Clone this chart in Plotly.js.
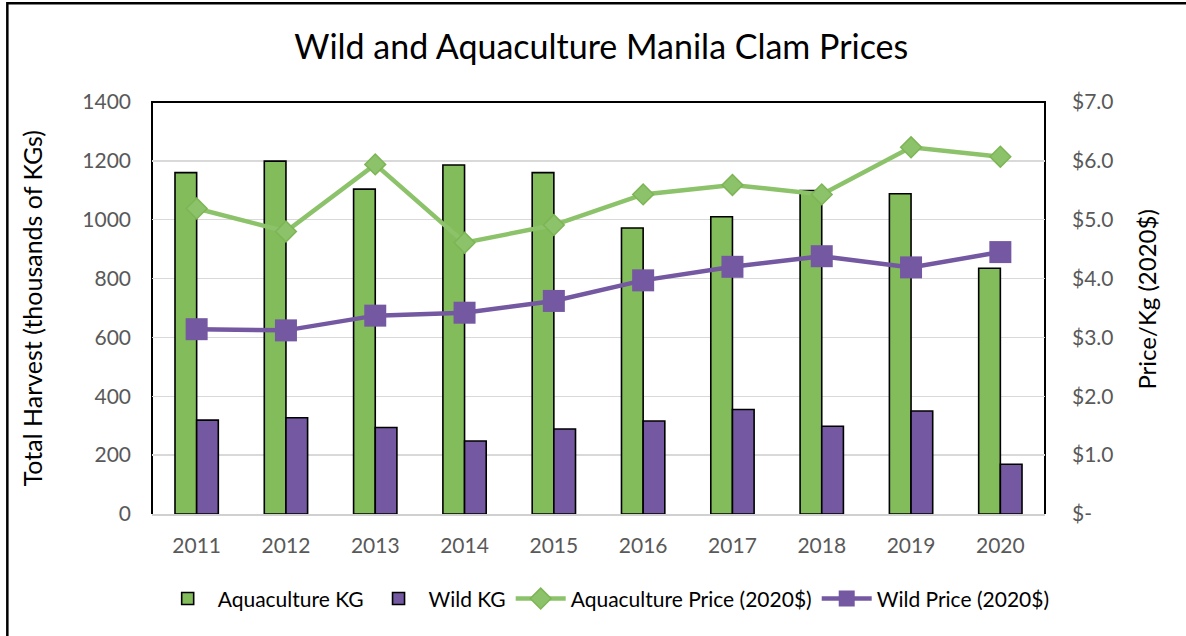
<!DOCTYPE html>
<html>
<head>
<meta charset="utf-8">
<script src="https://cdn.plot.ly/plotly-3.0.1.min.js"></script>
<style>
  html, body { margin: 0; padding: 0; background: #ffffff; }
  #chart { width: 1186px; height: 636px; }
</style>
</head>
<body>
<div id="chart"></div>
<script>
// ---- data ----
const years = ['2011', '2012', '2013', '2014', '2015', '2016', '2017', '2018', '2019', '2020'];
const aquacultureKG = [1160, 1199, 1104, 1186, 1160, 972, 1010, 1099, 1088, 835];
const wildKG = [319, 327, 294, 248, 289, 316, 355, 298, 350, 169];
const aquaculturePrice = [5.19, 4.80, 5.94, 4.61, 4.91, 5.43, 5.59, 5.43, 6.23, 6.07];
const wildPrice = [3.14, 3.12, 3.37, 3.42, 3.62, 3.97, 4.20, 4.38, 4.19, 4.45];
const harvestTicks = [0, 200, 400, 600, 800, 1000, 1200, 1400];
const priceTicks = [0, 1, 2, 3, 4, 5, 6, 7];
const priceTickLabels = ['$-', '$1.0', '$2.0', '$3.0', '$4.0', '$5.0', '$6.0', '$7.0'];

// ---- style ----
const FONT = 'Lato, "Open Sans", sans-serif';
const GREEN_BAR = '#83bc5a';
const PURPLE = '#7458a2';
const GREEN_LINE = '#8cc26a';

const traces = [
  {
    type: 'bar', name: 'Aquaculture KG', x: years, y: aquacultureKG,
    marker: { color: GREEN_BAR, line: { color: '#000000', width: 1.6 } },
    hoverinfo: 'skip'
  },
  {
    type: 'bar', name: 'Wild KG', x: years, y: wildKG,
    marker: { color: PURPLE, line: { color: '#000000', width: 1.6 } },
    hoverinfo: 'skip'
  },
  {
    type: 'scatter', mode: 'lines+markers', name: 'Aquaculture Price (2020$)',
    x: years, y: aquaculturePrice, yaxis: 'y2',
    line: { color: GREEN_LINE, width: 4.5 },
    marker: { symbol: 'diamond', size: 16, color: GREEN_LINE, line: { color: '#7db555', width: 1.5 } },
    hoverinfo: 'skip'
  },
  {
    type: 'scatter', mode: 'lines+markers', name: 'Wild Price (2020$)',
    x: years, y: wildPrice, yaxis: 'y2',
    line: { color: PURPLE, width: 4.5 },
    marker: { symbol: 'square', size: 22, color: PURPLE },
    hoverinfo: 'skip'
  }
];

const layout = {
  width: 1186, height: 636,
  paper_bgcolor: '#ffffff', plot_bgcolor: '#ffffff',
  margin: { l: 152, r: 141, t: 102, b: 122, pad: 0 },
  font: { family: FONT, color: '#595959', size: 21 },
  showlegend: true,
  barmode: 'group', bargap: 0.515, bargroupgap: 0,
  title: {
    text: 'Wild and Aquaculture Manila Clam Prices',
    font: { family: FONT, size: 34, color: '#000000' },
    x: 0.507, xanchor: 'center', y: 0.926, yanchor: 'middle'
  },
  xaxis: {
    type: 'category', range: [-0.5, 9.5], autorange: false,
    showgrid: false, zeroline: false,
    showline: true, linecolor: '#d0d0d0', linewidth: 1.5,
    ticks: '', ticklabelstandoff: 12,
    tickfont: { family: FONT, size: 21, color: '#595959' },
    fixedrange: true
  },
  yaxis: {
    range: [0, 1400], tickvals: harvestTicks,
    showgrid: true, gridcolor: '#d9d9d9', gridwidth: 1.5,
    zeroline: false, showline: false, ticks: '', ticklabelstandoff: 20,
    tickfont: { family: FONT, size: 21, color: '#595959' },
    fixedrange: true
  },
  yaxis2: {
    overlaying: 'y', side: 'right', range: [0, 7],
    tickvals: priceTicks, ticktext: priceTickLabels,
    showgrid: false, zeroline: false, showline: false, ticks: '',
    ticklabelstandoff: 26,
    tickfont: { family: FONT, size: 21, color: '#595959' },
    fixedrange: true
  },
  legend: {
    orientation: 'h', x: 0.5086, xanchor: 'center', y: -0.206, yanchor: 'middle',
    font: { family: FONT, size: 21, color: '#000000' },
    itemwidth: 50, traceorder: 'normal', bgcolor: 'rgba(0,0,0,0)'
  },
  annotations: [
    {
      text: 'Total Harvest (thousands of KGs)', textangle: -90,
      xref: 'paper', yref: 'paper', x: -0.134, y: 0.5, xanchor: 'center', yanchor: 'middle',
      showarrow: false, font: { family: FONT, size: 25, color: '#000000' }
    },
    {
      text: 'Price/Kg (2020$)', textangle: -90,
      xref: 'paper', yref: 'paper', x: 1.114, y: 0.52, xanchor: 'center', yanchor: 'middle',
      showarrow: false, font: { family: FONT, size: 24, color: '#000000' }
    }
  ],
  shapes: [
    {
      type: 'path', xref: 'paper', yref: 'paper', layer: 'below',
      path: 'M0,0 L0,1 L1,1 L1,0', line: { color: '#000000', width: 2 }
    },
    {
      type: 'path', xref: 'paper', yref: 'paper', layer: 'above',
      path: 'M-0.162,-0.32 L-0.162,1.2394 L1.17,1.2394', line: { color: '#000000', width: 2.5 }
    }
  ]
};

Plotly.newPlot('chart', traces, layout, { displayModeBar: false, staticPlot: true });
</script>
</body>
</html>
